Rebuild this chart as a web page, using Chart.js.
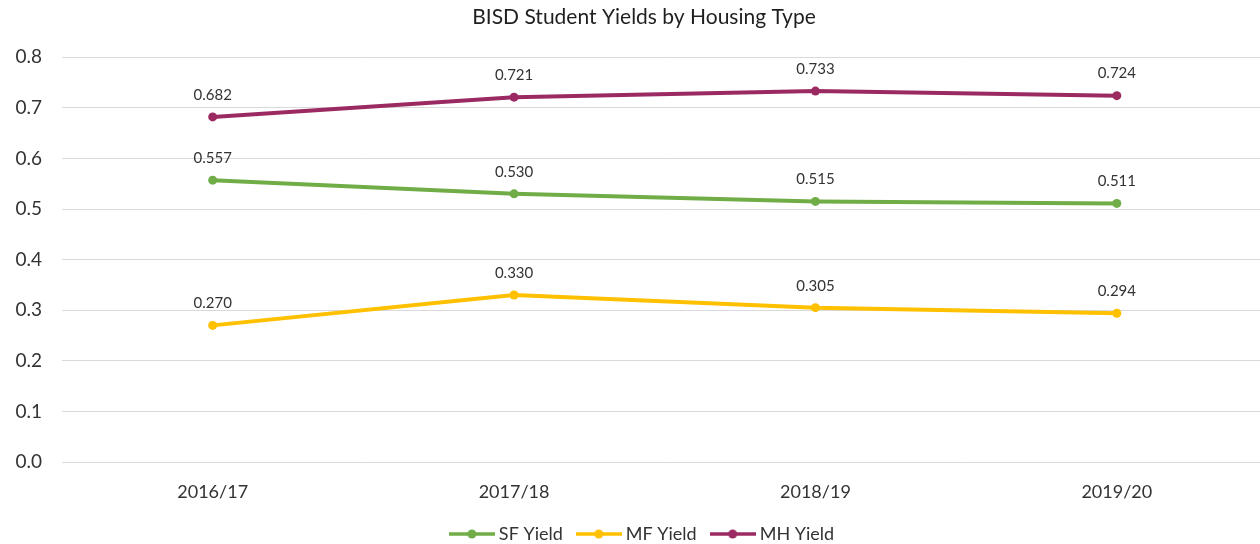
<!DOCTYPE html>
<html>
<head>
<meta charset="utf-8">
<script src="https://cdn.jsdelivr.net/npm/chart.js@4.4.0/dist/chart.umd.min.js"></script>
<style>
  html, body { margin:0; padding:0; background:#fff; overflow:hidden; }
  #wrap { width:1272px; height:544px; position:relative; }
</style>
</head>
<body>
<div id="wrap"><canvas id="chart"></canvas></div>
<script>
  // datos
  const years   = ["2016/17", "2017/18", "2018/19", "2019/20"];
  const sfYield = [0.557, 0.530, 0.515, 0.511];
  const mfYield = [0.270, 0.330, 0.305, 0.294];
  const mhYield = [0.682, 0.721, 0.733, 0.724];
  const yTicks  = [0, 0.1, 0.2, 0.3, 0.4, 0.5, 0.6, 0.7, 0.8];

  const FONT = "Lato, 'Open Sans', sans-serif";
  const GREEN = "#70ad47", GOLD = "#ffc000", MAROON = "#9c2a62";

  // icono de leyenda: linea + punto
  function legendIcon(color){
    const c = document.createElement("canvas");
    c.width = 46; c.height = 12;
    const g = c.getContext("2d");
    g.strokeStyle = color; g.lineWidth = 3.5;
    g.beginPath(); g.moveTo(0,6); g.lineTo(46,6); g.stroke();
    g.fillStyle = color;
    g.beginPath(); g.arc(23,6,4.5,0,Math.PI*2); g.fill();
    return c;
  }

  // etiquetas de valor sobre cada punto
  const valueLabels = {
    id: "valueLabels",
    afterDatasetsDraw(chart){
      const ctx = chart.ctx;
      ctx.save();
      ctx.font = "15px " + FONT;
      ctx.fillStyle = "#333333";
      ctx.textAlign = "center";
      ctx.textBaseline = "middle";
      chart.data.datasets.forEach((ds, i)=>{
        chart.getDatasetMeta(i).data.forEach((pt, j)=>{
          ctx.fillText(ds.data[j].toFixed(3), pt.x, pt.y - 22);
        });
      });
      ctx.restore();
    }
  };

  const mk = (label, data, color)=>({
    label, data,
    borderColor: color, backgroundColor: color,
    borderWidth: 4, pointRadius: 4.5, pointHoverRadius: 4.5,
    pointBorderWidth: 0, tension: 0,
    pointStyle: "circle", legendIcon: legendIcon(color)
  });

  new Chart(document.getElementById("chart").getContext("2d"), {
    type: "line",
    data: {
      labels: years,
      datasets: [
        mk("SF Yield", sfYield, GREEN),
        mk("MF Yield", mfYield, GOLD),
        mk("MH Yield", mhYield, MAROON)
      ]
    },
    plugins: [valueLabels],
    options: {
      responsive: true,
      maintainAspectRatio: false,
      animation: false,
      layout: { padding: { left: 16, right: 0, top: 0, bottom: 0 } },
      plugins: {
        title: {
          display: true,
          text: "BISD Student Yields by Housing Type",
          color: "#1f1f1f",
          font: { family: FONT, size: 21, weight: "normal" },
          padding: { top: 5, bottom: 27 }
        },
        legend: {
          position: "bottom",
          maxHeight: 37,
          labels: {
            color: "#333333",
            font: { family: FONT, size: 18 },
            usePointStyle: true,
            pointStyleWidth: 36,
            boxHeight: 12,
            padding: 18,
            generateLabels: (chart)=> chart.data.datasets.map((ds, i)=>({
              text: ds.label,
              pointStyle: ds.legendIcon,
              fillStyle: ds.borderColor,
              strokeStyle: ds.borderColor,
              lineWidth: 0,
              fontColor: "#333333",
              datasetIndex: i,
              hidden: false
            }))
          }
        },
        tooltip: { enabled: false }
      },
      scales: {
        x: {
          offset: true,
          afterFit: (axis)=>{ axis.height = 45; },
          grid: { display: false, drawTicks: false },
          border: { display: false },
          ticks: { color: "#333333", font: { family: FONT, size: 18 }, padding: 19 }
        },
        y: {
          min: 0, max: 0.8,
          afterBuildTicks: (axis)=>{ axis.ticks = yTicks.map(v=>({ value: v })); },
          afterFit: (axis)=>{ axis.width = 46; },
          grid: { color: "#d9d9d9", lineWidth: 1, drawTicks: false },
          border: { display: false },
          ticks: {
            color: "#333333",
            font: { family: FONT, size: 19 },
            padding: 20,
            callback: (v)=> Number(v).toFixed(1)
          }
        }
      }
    }
  });
</script>
</body>
</html>
